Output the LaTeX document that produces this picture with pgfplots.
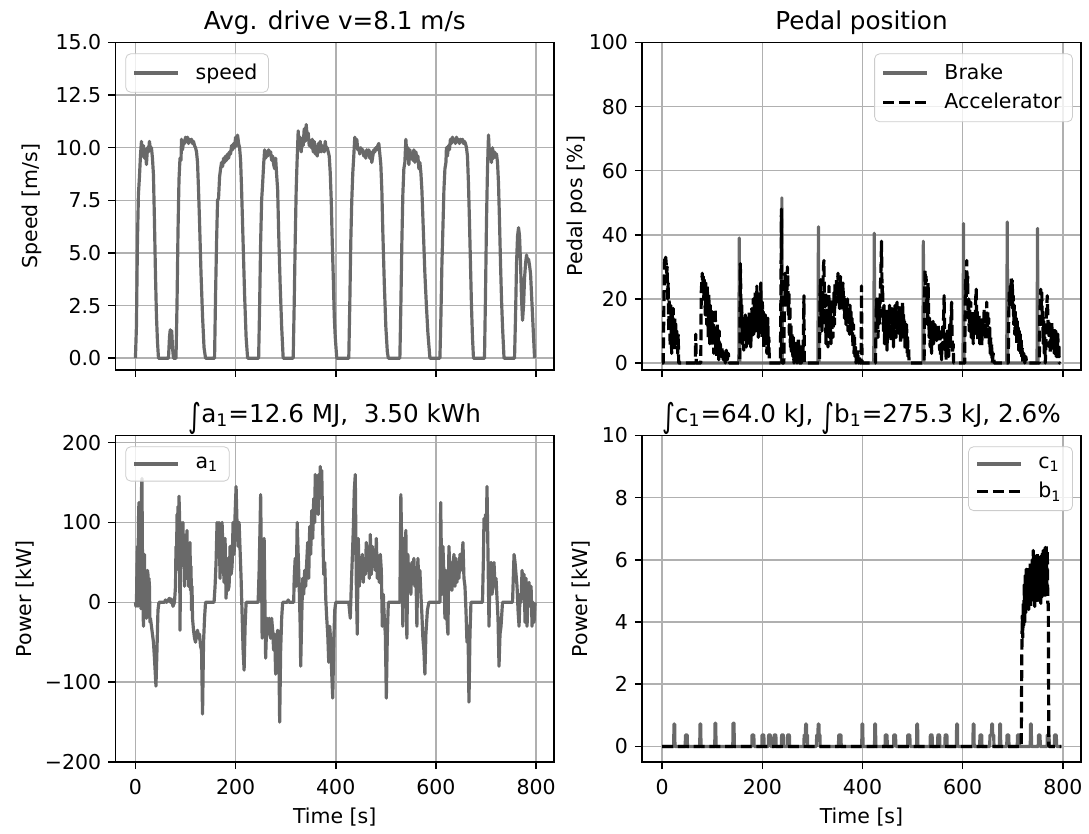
\documentclass[border=0pt]{standalone}
\usepackage{fontspec}
\setmainfont{DejaVu Sans}
\usepackage{pgfplots}
\pgfplotsset{compat=1.18}

\definecolor{dgray}{RGB}{105,105,105}
\definecolor{gridc}{RGB}{176,176,176}

\newcommand{\tfont}{\fontsize{10.3}{12}\selectfont}
\newcommand{\hfont}{\fontsize{12.4}{14}\selectfont}
\newcommand{\bigint}{\raisebox{-0.2em}{\scalebox{1}[1.35]{∫}}}
\newcommand{\lgap}{\hspace*{6pt}}

\pgfplotsset{
  panel/.style={
    scale only axis, width=220.5pt, height=164.5pt, anchor=south west,
    xmin=-40, xmax=836,
    xtick={0,200,400,600,800},
    axis line style={line width=0.8pt},
    tick style={line width=0.8pt, black},
    tick align=outside, major tick length=3.6pt,
    xtick pos=bottom, ytick pos=left,
    grid=major, major grid style={gridc, line width=0.8pt},
    ticklabel style={font=\tfont},
    xticklabel style={yshift=-1.5pt},
    label style={font=\tfont},
    title style={font=\hfont, at={(axis description cs:0.5,1)}, anchor=base, yshift=0.5pt},
    legend style={font=\tfont, draw=black!20, rounded corners=2.5pt, fill=white,
      fill opacity=0.8, text opacity=1, inner xsep=3.5pt, inner ysep=3pt,
      row sep=1.5pt, nodes={inner sep=2pt}},
    legend cell align=left,
    legend image code/.code={\draw[#1] (0pt,0pt) -- (22pt,0pt);},
    every axis plot/.append style={line width=1.6pt, line join=round},
    xlabel style={at={(axis description cs:0.5,-0.17)}, anchor=center},
  },
  lt/.style={legend style={at={(0,1)}, anchor=north west, xshift=5pt, yshift=-5.5pt}},
  rt/.style={legend style={at={(1,1)}, anchor=north east, xshift=-4pt, yshift=-5.5pt}},
  yl/.style={ylabel style={at={(axis description cs:#1,0.5)}, anchor=center, rotate=0}},
  gline/.style={dgray, solid},
  kdash/.style={black, dash pattern=on 5.5pt off 2.4pt},
}

\begin{document}
\begin{tikzpicture}
\path (0,0) rectangle (544.5pt,417pt);

% ---------------- top left: speed ----------------
\begin{axis}[panel, lt, yl=-0.190,
  at={(58pt,231.15pt)},
  ymin=-0.55, ymax=15,
  ytick={0,2.5,5,7.5,10,12.5,15},
  yticklabels={0.0,2.5,5.0,7.5,10.0,12.5,15.0},
  xticklabels={},
  title={Avg. drive v=8.1 m/s},
  ylabel={Speed [m/s]},
]
\addplot[gline] coordinates {
(0,0) (2,1.5) (4,5.5) (6,7.8) (8,8.6) (10,9.6) (12,10.3) (14,9.6) (16,10.1) (18,9.5) (20,9.9) (22,9.2) (24,10.0) (26,9.8) (28,10.3) (30,9.9) (32,10.0) (34,9.5) (36,8.7) (38,6.5) (40,4.0) (42,2.0) (44,0.8) (46,0)
(66,0) (68,1.0) (69.5,1.35) (71,0.6) (72.5,1.3) (74,0.5) (76,0)
(81,0) (83,2.5) (85,6.0) (87,8.5) (89,9.5) (91,9.4) (92,10.4) (94,9.9) (96,10.3) (98,10.2) (100,10.5) (102,10.3) (104,10.5) (106,10.2) (108,10.4) (110,10.3) (112,10.4) (114,10.2) (116,10.3) (118,10.1) (120,10.0) (122,9.8) (124,9.3) (126,8.0) (128,6.5) (131,4.0) (134,2.0) (137,0.5) (140,0)
(158,0) (160,3.0) (162,5.5) (164,7.5) (166,7.6) (168,8.6) (170,9.0) (172,9.3) (174,9.1) (176,9.5) (178,9.3) (180,9.6) (182,9.4) (184,9.7) (186,9.5) (188,9.8) (190,9.7) (192,10.1) (194,9.9) (196,10.2) (198,10.0) (200,10.5) (202,10.1) (204,10.6) (206,10.2) (208,10.0) (210,9.4) (212,8.0) (215,5.5) (218,3.0) (221,1.0) (224,0)
(246,0) (248,2.5) (250,5.5) (252,7.5) (254,8.3) (256,9.2) (258,9.9) (260,9.5) (262,9.8) (264,9.6) (266,9.9) (268,9.7) (270,9.8) (272,9.4) (274,9.6) (276,9.2) (278,9.0) (280,9.5) (282,8.7) (284,8.0) (286,6.0) (289,3.5) (292,1.5) (295,0)
(315,0) (317,2.5) (319,5.5) (321,8.0) (323,9.5) (325,10.8) (327,10.0) (329,10.5) (331,9.8) (333,10.4) (335,10.1) (337,10.9) (339,10.3) (341,11.1) (343,10.5) (345,10.7) (347,10.1) (349,10.3) (351,10.0) (353,10.4) (355,9.8) (357,10.3) (359,9.7) (361,10.0) (363,9.6) (365,10.2) (367,9.8) (369,10.3) (371,9.8) (373,10.1) (375,9.9) (377,9.8) (379,10.3) (381,9.9) (383,10.0) (385,9.8) (387,9.6) (389,8.8) (391,7.5) (393,5.5) (395,3.9) (397,2.0) (399,1.0) (402,0)
(426,0) (428,2.5) (430,5.5) (432,7.5) (434,8.8) (436,9.6) (438,10.5) (440,10.1) (442,10.4) (444,9.9) (446,10.0) (448,9.7) (450,10.0) (452,9.8) (454,9.9) (456,9.6) (458,9.8) (460,9.5) (462,9.9) (464,9.7) (466,9.9) (468,9.5) (470,9.8) (472,9.3) (474,9.6) (476,9.9) (478,9.8) (480,10.0) (482,9.9) (484,10.1) (486,10.2) (488,9.7) (490,9.2) (492,8.0) (494,6.0) (497,3.5) (500,1.5) (503,0.3) (505,0)
(528,0) (530,2.5) (532,5.5) (534,7.8) (536,9.0) (538,9.3) (540,10.4) (542,9.6) (544,10.0) (546,9.2) (548,9.9) (550,9.6) (552,9.7) (554,9.4) (556,9.9) (558,9.3) (560,9.8) (562,9.5) (564,9.6) (566,9.0) (568,9.3) (570,8.8) (572,8.0) (575,6.0) (578,4.0) (581,2.5) (584,1.2) (588,0)
(608,0) (610,2.0) (612,4.5) (614,6.2) (616,8.0) (618,9.0) (620,9.3) (621,10.0) (623,9.6) (625,10.1) (627,9.9) (629,10.4) (631,10.2) (633,10.5) (635,10.3) (637,10.4) (639,10.2) (641,10.5) (643,10.3) (645,10.4) (647,10.2) (649,10.4) (651,10.3) (653,10.4) (655,10.2) (657,10.3) (659,10.2) (661,10.0) (663,9.6) (665,8.3) (667,6.5) (669,4.5) (671,2.5) (673,1.0) (675,0)
(697,0) (699,3.0) (701,6.5) (703,9.0) (705,10.6) (707,9.6) (709,9.9) (711,9.3) (713,10.0) (715,9.5) (717,9.8) (719,9.6) (721,9.7) (723,9.3) (725,8.3) (727,6.5) (729,4.5) (731,2.8) (733,1.5) (736,0)
(757,0) (759,2.0) (761,4.5) (763,5.8) (765,6.2) (767,5.8) (769,4.5) (771,2.8) (773,1.8) (775,2.5) (777,3.8) (779,4.5) (781,4.9) (783,4.6) (785,4.7) (787,4.4) (789,4.0) (791,3.0) (793,2.0) (795,1.0) (797,0)
};
\addlegendentry{\lgap speed}
\end{axis}

% ---------------- top right: pedals ----------------
\begin{axis}[panel, rt, yl=-0.150,
  at={(322.75pt,231.15pt)},
  ymin=-2.1, ymax=100,
  ytick={0,20,40,60,80,100},
  yticklabels={0,20,40,60,80,100},
  xticklabels={},
  title={Pedal position},
  ylabel={Pedal pos [\%]},
]
\addplot[gline] coordinates {
(0,0) (153,0) (154,39) (155,0) (238,0) (239,51.5) (240,0) (311,0) (312,42.5) (313,0) (422.5,0) (423.5,40.5) (424.5,0) (520.5,0) (521.5,38) (522.5,0) (600.7,0) (601.7,43.5) (602.7,0) (688,0) (689,44) (690,0) (748.5,0) (749.5,42) (750.5,0) (795,0)
};
\addlegendentry{\lgap Brake}
\addplot[kdash] coordinates {
(0,0) (2,0) (4,25) (5,33) (6,32) (7,33) (8,31) (9,28) (10,30) (11,20) (12,25) (13,10) (14,20) (15,14) (16,5) (17,18) (18,10) (19,3) (20,15) (21,8) (22,17) (23,12) (24,4) (25,14) (26,9) (27,13) (28,6) (29,10) (30,8) (31,3) (32,9) (33,0) (40,0)
(66,0) (67,9) (68,0) (77,0) (78,22) (80,28) (81,24) (82,27) (83,20) (84,26) (85,22) (86,15) (87,25) (88,20) (89,12) (90,24) (91,18) (92,8) (93,22) (94,14) (95,6) (96,18) (97,10) (98,14) (99,5) (100,16) (101,8) (102,12) (103,3) (104,10) (105,6) (106,17) (107,4) (108,9) (109,2) (110,12) (111,5) (112,8) (113,1) (114,10) (115,3) (116,6) (118,2) (120,5) (122,1) (124,3) (126,0) (128,4) (130,1) (132,3) (134,0)
(153,0) (155,0) (156,31) (157,22) (158,12) (159,18) (160,6) (161,14) (162,10) (163,4) (164,12) (165,7) (166,15) (167,9) (168,5) (169,11) (170,14) (171,6) (172,12) (173,8) (174,16) (175,9) (176,13) (177,5) (178,10) (179,17) (180,8) (181,14) (182,20) (183,9) (184,18) (185,12) (186,22) (187,10) (188,16) (189,24) (190,12) (191,19) (192,8) (193,16) (194,22) (195,10) (196,17) (197,25) (198,14) (199,8) (200,19) (201,12) (202,16) (203,5) (204,14) (205,10) (206,15) (207,6) (208,12) (209,3) (210,9) (211,14) (212,4) (213,8) (214,0)
(236,0) (237,20) (238,48) (239,0) (243,0) (244,22) (245,28) (246,26) (247,20) (248,27) (249,18) (250,30) (251,25) (252,15) (253,22) (254,8) (255,18) (256,5) (257,12) (258,3) (259,9) (260,6) (261,2) (262,8) (263,0) (264,5) (265,2) (266,7) (267,1) (268,4) (269,0) (270,6) (271,2) (272,8) (273,4) (274,0) (276,0) (277,5) (278,0) (280,6) (281,2) (282,8) (283,21) (284,0)
(311,0) (314,0) (315,20) (316,26) (317,15) (318,22) (319,10) (320,18) (321,25) (322,30) (323,32) (324,20) (325,12) (326,22) (327,6) (328,16) (329,10) (330,20) (331,5) (332,14) (333,24) (334,8) (335,18) (336,12) (337,6) (338,15) (339,10) (340,20) (341,8) (342,16) (343,22) (344,12) (345,25) (346,18) (347,22) (348,26) (349,19) (350,24) (351,28) (352,20) (353,25) (354,17) (355,23) (356,27) (357,19) (358,24) (359,16) (360,22) (361,25) (362,18) (363,21) (364,14) (365,20) (366,17) (367,12) (368,19) (369,15) (370,20) (371,10) (372,17) (373,14) (374,9) (375,18) (376,12) (377,16) (378,8) (379,14) (380,10) (381,5) (382,12) (383,3) (384,8) (385,2) (386,5) (387,0) (388,3) (389,1) (390,4) (392,0) (394,2) (395,0) (397,0) (398,24) (399,0)
(424,0) (426,0) (427,12) (428,20) (429,14) (430,18) (431,8) (432,15) (433,21) (434,12) (435,17) (436,25) (437,30) (438,38) (439,22) (440,24) (441,15) (442,10) (443,18) (444,6) (445,14) (446,9) (447,17) (448,11) (449,4) (450,13) (451,16) (452,8) (453,14) (454,18) (455,10) (456,15) (457,7) (458,12) (459,17) (460,9) (461,14) (462,5) (463,16) (464,11) (465,18) (466,13) (467,8) (468,15) (469,19) (470,10) (471,14) (472,12) (473,18) (474,9) (475,13) (476,6) (477,12) (478,16) (479,8) (480,19) (481,11) (482,15) (483,7) (484,13) (485,4) (486,10) (487,6) (488,12) (489,3) (490,8) (491,2) (492,5) (493,0) (495,0)
(520,0) (523,0) (524,22) (525,29) (526,24) (527,27) (528,18) (529,22) (530,12) (531,25) (532,16) (533,8) (534,14) (535,5) (536,12) (537,9) (538,3) (539,11) (540,7) (541,13) (542,6) (543,10) (544,8) (545,12) (546,9) (547,11) (548,7) (549,10) (550,9) (551,12) (552,8) (553,10) (554,4) (555,9) (556,2) (557,6) (558,1) (559,8) (560,12) (561,5) (562,15) (563,21) (564,10) (565,4) (566,9) (567,1) (568,6) (569,10) (570,3) (571,8) (572,2) (573,7) (574,12) (575,5) (576,9) (577,15) (578,19) (579,8) (580,3) (581,6) (582,0)
(601,0) (604,0) (605,18) (606,26) (607,20) (608,32) (609,24) (610,27) (611,14) (612,20) (613,10) (614,17) (615,12) (616,19) (617,8) (618,15) (619,11) (620,13) (621,6) (622,12) (623,16) (624,9) (625,14) (626,20) (627,23) (628,12) (629,16) (630,7) (631,13) (632,10) (633,15) (634,6) (635,11) (636,8) (637,13) (638,5) (639,10) (640,14) (641,8) (642,12) (643,17) (644,10) (645,15) (646,7) (647,13) (648,19) (649,11) (650,16) (651,9) (652,14) (653,6) (654,11) (655,3) (656,8) (657,2) (658,6) (659,0) (661,3) (663,0)
(689,0) (691,0) (692,15) (693,22) (694,18) (695,24) (696,20) (697,27) (698,22) (699,26) (700,17) (701,21) (702,12) (703,18) (704,9) (705,16) (706,11) (707,14) (708,6) (709,13) (710,8) (711,11) (712,4) (713,10) (714,6) (715,9) (716,3) (717,7) (718,2) (719,5) (720,0) (722,3) (724,0) (726,2) (728,0)
(750,0) (753,0) (754,15) (755,20) (756,23) (757,18) (758,22) (759,12) (760,16) (761,6) (762,13) (763,3) (764,8) (765,0) (766,5) (767,14) (768,18) (769,21) (770,15) (771,9) (772,13) (773,5) (774,10) (775,3) (776,12) (777,7) (778,13) (779,4) (780,10) (781,6) (782,11) (783,3) (784,9) (785,5) (786,10) (787,2) (788,8) (789,4) (790,9) (791,1) (792,6) (793,0) (795,0)
};
\addlegendentry{\lgap Accelerator}
\end{axis}

% ---------------- bottom left: power a1 ----------------
\begin{axis}[panel, lt, yl=-0.207,
  at={(58pt,34pt)}, height=164.15pt,
  ymin=-200, ymax=209,
  ytick={-200,-100,0,100,200},
  yticklabels={−200,−100,0,100,200},
  xticklabels={0,200,400,600,800},
  title={\bigint a\textsubscript{1}=12.6 MJ,\ \ 3.50 kWh},
  xlabel={Time [s]},
  ylabel={Power [kW]},
]
\addplot[gline] coordinates {
(0,0) (1,-5) (2,-3) (3,40) (4,70) (5,-5) (6,100) (7,125) (8,20) (9,90) (10,110) (11,-8) (12,140) (13,155) (14,60) (15,0) (16,-30) (17,20) (18,60) (19,-10) (20,40) (21,30) (22,-20) (23,25) (24,40) (25,35) (26,-5) (27,30) (28,20) (29,-25) (30,-20) (32,-30) (34,-40) (36,-50) (38,-70) (41,-105) (43,-60) (45,-10) (47,0)
(58,0) (60,3) (62,0) (68,5) (70,0) (72,4) (75,-5) (78,0)
(80,20) (81,70) (82,40) (83,110) (84,95) (85,120) (86,60) (87,133) (88,110) (89,-35) (90,40) (91,100) (92,70) (93,95) (94,60) (95,100) (96,45) (97,85) (98,20) (99,80) (100,50) (101,85) (102,30) (103,90) (104,40) (105,70) (106,20) (107,55) (108,40) (109,75) (110,15) (111,45) (112,-10) (113,20) (114,-20) (116,-35) (118,-45) (120,-50) (122,-40) (124,-35) (126,-45) (128,-40) (130,-55) (132,-60) (134,-140) (136,-50) (138,-20) (140,0)
(157,0) (159,20) (161,50) (163,100) (165,85) (167,100) (169,30) (171,95) (173,100) (175,60) (177,25) (179,80) (181,5) (183,55) (185,15) (187,20) (189,70) (191,35) (193,45) (195,100) (197,60) (199,110) (201,145) (203,95) (205,70) (207,100) (209,65) (211,30) (213,-15) (215,-60) (217,-85) (219,-30) (221,0)
(245,0) (247,40) (249,100) (250,135) (252,30) (253,-45) (255,20) (257,80) (259,-20) (260,-70) (262,-30) (263,-20) (265,-35) (267,-20) (268,-40) (270,-45) (272,-20) (274,-35) (276,-60) (278,-40) (280,-90) (282,-50) (284,-35) (286,-45) (288,-150) (290,-60) (292,-20) (294,0)
(303,0) (305,3) (307,0) (316,0) (317,30) (319,55) (321,20) (323,100) (325,60) (327,20) (329,-30) (330,-80) (332,-20) (334,30) (336,10) (338,40) (340,20) (342,50) (344,75) (346,30) (348,95) (350,60) (352,115) (354,80) (356,130) (358,100) (359,160) (361,120) (363,145) (365,110) (366,160) (368,140) (369,170) (371,130) (372,165) (374,90) (376,35) (378,50) (380,5) (382,-20) (384,-40) (386,-75) (388,-30) (390,-50) (392,-90) (394,-120) (396,-50) (398,-10) (400,0)
(426,0) (429,-20) (431,20) (433,55) (435,90) (437,140) (439,160) (441,25) (443,-40) (445,80) (447,20) (449,55) (451,30) (453,60) (455,25) (457,50) (459,35) (461,75) (463,40) (465,55) (467,30) (469,85) (471,35) (473,70) (475,45) (477,60) (479,40) (481,80) (483,30) (485,50) (487,25) (489,60) (491,40) (493,-30) (495,10) (497,-20) (499,-40) (501,-120) (503,-40) (505,0)
(528,0) (530,135) (532,60) (534,-30) (536,80) (538,20) (540,90) (542,-45) (544,60) (546,25) (548,45) (550,10) (552,50) (554,35) (556,55) (558,20) (560,40) (562,-30) (564,55) (566,25) (568,40) (570,10) (572,-15) (574,-45) (576,-60) (578,-90) (580,-40) (583,-10) (586,0)
(608,0) (609.5,125) (612,10) (614,70) (616,35) (618,-20) (620,40) (622,-20) (624,-40) (626,70) (628,40) (630,50) (632,15) (634,40) (636,60) (638,20) (640,55) (642,25) (644,50) (646,30) (648,60) (650,40) (652,55) (654,75) (656,30) (658,20) (660,-10) (662,-50) (664,-30) (666,-125) (668,-40) (670,0)
(693,0) (695,60) (696,105) (698,90) (699,110) (701,100) (702,145) (704,60) (706,-30) (708,40) (710,50) (712,10) (714,20) (716,50) (718,20) (720,30) (722,5) (724,-20) (726,-80) (728,-40) (730,-30) (733,0)
(753,0) (754,20) (756,60) (758,50) (760,35) (762,20) (764,-10) (766,-30) (768,10) (770,0) (772,40) (774,20) (776,35) (778,-25) (780,30) (782,-30) (784,10) (786,25) (788,-5) (790,20) (792,-30) (794,0) (796,-25) (798,0)
};
\addlegendentry{\lgap a\textsubscript{1}}
\end{axis}

% ---------------- bottom right: c1 and b1 ----------------
\begin{axis}[panel, rt, yl=-0.140,
  at={(322.75pt,34pt)}, height=164.15pt,
  ymin=-0.5, ymax=10,
  ytick={0,2,4,6,8,10},
  yticklabels={0,2,4,6,8,10},
  xticklabels={0,200,400,600,800},
  title={\bigint c\textsubscript{1}=64.0 kJ, \bigint b\textsubscript{1}=275.3 kJ, 2.6\%},
  xlabel={Time [s]},
  ylabel={Power [kW]},
]
\addplot[gline] coordinates {
(0,0) (23,0) (23.5,0.72) (25,0.72) (25.5,0)
(46,0) (46.5,0.37) (50,0.37) (50.5,0)
(75,0) (75.5,0.72) (77,0.72) (77.5,0)
(105,0) (105.5,0.75) (107,0.75) (107.5,0)
(141,0) (141.5,0.75) (143.5,0.75) (144,0)
(179,0) (179.5,0.37) (183,0.37) (183.5,0)
(199,0) (199.5,0.37) (203,0.37) (203.5,0)
(212,0) (212.5,0.37) (216,0.37) (216.5,0)
(223,0) (223.5,0.37) (227,0.37) (227.5,0)
(238,0) (238.5,0.37) (242,0.37) (242.5,0)
(250,0) (250.5,0.37) (254,0.37) (254.5,0)
(283,0) (283.5,0.37) (286,0.37) (286.5,0.72) (288,0.72) (288.5,0.37) (290,0.37) (290.5,0)
(308,0) (308.5,0.37) (311,0.37) (311.5,0.72) (313,0.72) (313.5,0.37) (315,0.37) (315.5,0)
(352,0) (352.5,0.37) (357,0.37) (357.5,0)
(398.5,0) (399,0.72) (400.5,0.72) (401,0)
(424,0) (424.5,0.72) (426,0.72) (426.5,0)
(445,0) (445.5,0.37) (449,0.37) (449.5,0)
(462,0) (462.5,0.37) (466,0.37) (466.5,0)
(490,0) (490.5,0.37) (494.5,0.37) (495,0)
(508,0) (508.5,0.72) (510,0.72) (510.5,0)
(535,0) (535.5,0.37) (539,0.37) (539.5,0)
(550,0) (550.5,0.37) (554,0.37) (554.5,0)
(564.5,0) (565,0.37) (568.5,0.37) (569,0)
(587.5,0) (588,0.72) (589.5,0.72) (590,0)
(620.5,0) (621,0.72) (622.5,0.72) (623,0)
(634,0) (634.5,0.37) (638,0.37) (638.5,0)
(654,0) (654.5,0.37) (657.5,0.37) (658,0.72) (659.5,0.72) (660,0.37) (662,0.37) (662.5,0)
(673.5,0) (674,0.72) (675.5,0.72) (676,0)
(688,0) (688.5,0.37) (692,0.37) (692.5,0)
(709,0) (709.5,0.37) (713,0.37) (713.5,0)
(735,0) (735.5,0.72) (737,0.72) (737.5,0)
(751,0) (751.5,0.37) (754.5,0.37) (755,0)
(768.5,0) (769,0.37) (772.5,0.37) (773,0)
(783,0) (783.5,0.37) (787,0.37) (787.5,0) (797,0)
};
\addlegendentry{\lgap c\textsubscript{1}}
\addplot[kdash] coordinates {
(0,0) (717,0) (718,2.8) (719,4.2) (720,3.5) (721,4.6) (722,3.9) (723,5.2) (724,4.0) (725,5.5) (726,4.3) (727,5.7) (728,4.4) (729,5.6) (730,4.5) (731,5.8) (732,4.4) (733,5.7) (734,4.6) (735,5.9) (736,4.5) (737,5.8) (738,4.7) (739,6.0) (740,4.6) (741,6.3) (742,4.8) (743,5.9) (744,4.5) (745,6.1) (746,4.9) (747,5.8) (748,4.6) (749,6.2) (750,4.8) (751,6.0) (752,4.7) (753,5.9) (754,4.9) (755,6.1) (756,4.6) (757,6.0) (758,4.8) (759,6.2) (760,4.9) (761,6.3) (762,5.0) (763,6.1) (764,4.8) (765,6.4) (766,5.0) (767,6.5) (768,4.9) (769,6.3) (770,4.6) (771,4.6) (772,0) (797,0)
};
\addlegendentry{\lgap b\textsubscript{1}}
\end{axis}
\end{tikzpicture}
\end{document}
